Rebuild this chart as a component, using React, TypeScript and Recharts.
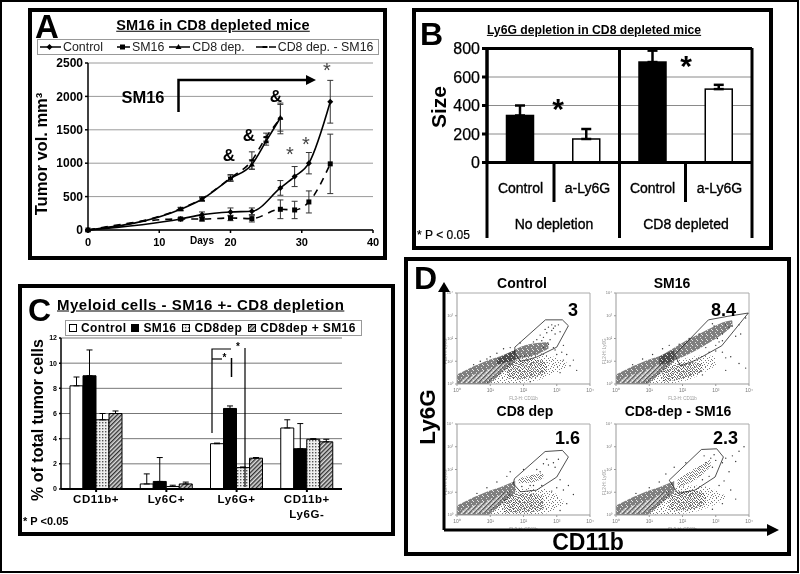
import React from "react";
import {
  Bar,
  BarChart,
  Area,
  CartesianGrid,
  ComposedChart,
  ErrorBar,
  Legend,
  Line,
  LineChart,
  ReferenceLine,
  Scatter,
  XAxis,
  YAxis,
} from "recharts";

const FONT = '"Liberation Sans", Arial, sans-serif';

// panel A: tumor growth
const controlDays = [0, 13, 16, 20, 23, 27, 29, 31, 34];
const controlVol = [0, 165, 230, 270, 280, 630, 800, 1000, 1920];
const controlErr = [0, 15, 40, 60, 50, 110, 150, 160, 320];
const sm16Days = [0, 13, 16, 20, 23, 27, 29, 31, 34];
const sm16Vol = [0, 165, 165, 180, 170, 310, 300, 420, 990];
const sm16Err = [0, 15, 30, 40, 50, 140, 130, 165, 445];
const cd8Days = [0, 13, 16, 20, 23, 25, 27];
const cd8Vol = [0, 310, 460, 770, 980, 1330, 1680];
const cd8Err = [0, 20, 30, 40, 70, 60, 200];
const cd8SmDays = [0, 13, 16, 20, 23, 25, 27];
const cd8SmVol = [0, 320, 470, 780, 1040, 1390, 1670];
const cd8SmErr = [0, 20, 30, 50, 130, 60, 230];

// panel B: Ly6G depletion
const sizeLabels = ["Control", "a-Ly6G", "Control", "a-Ly6G"];
const sizeValues = [330, 165, 705, 515];
const sizeErrors = [70, 70, 80, 30];

// panel C: myeloid cells
const myeloidLabels = ["CD11b+", "Ly6C+", "Ly6G+", "CD11b+\nLy6G-"];
const myeloidControl = [8.2, 0.4, 3.6, 4.85];
const myeloidSm16 = [9.0, 0.6, 6.4, 3.2];
const myeloidCd8 = [5.5, 0.2, 1.7, 3.95];
const myeloidCd8Sm = [6.0, 0.4, 2.45, 3.75];
const myeloidControlErr = [0.7, 0.8, 0.05, 0.65];
const myeloidSm16Err = [2.05, 1.9, 0.2, 2.0];
const myeloidCd8Err = [0.5, 0.1, 0.05, 0.05];
const myeloidCd8SmErr = [0.2, 0.15, 0.05, 0.2];

// panel D: flow plots, all in log10 decades
const bandX = [0, 0.5, 0.95, 1.3, 1.75];
const bandHigh = [0.42, 0.78, 1.05, 1.22, 1.5];
const bandLow = [0, 0, 0, 0.42, 1.0];
const coreX = [0.1, 0.5, 0.9, 1.2, 1.5];
const coreHigh = [0.22, 0.42, 0.62, 0.8, 1.05];
const coreLow = [0.05, 0.05, 0.12, 0.5, 0.95];

const controlGate = [[1.74, 1.62], [2.66, 2.82], [3.17, 2.82], [3.35, 2.56], [3.0, 1.62], [2.39, 1.18], [1.91, 0.99], [1.74, 1.35], [1.74, 1.62]];
const controlArmX = [1.2, 1.6, 2.0, 2.4, 2.75];
const controlArmHigh = [1.1, 1.4, 1.68, 1.8, 1.85];
const controlArmLow = [0.85, 1.0, 1.15, 1.3, 1.55];
const controlCloudX = [0.9, 1.3, 1.7, 2.1, 2.5, 2.9, 3.3];
const controlCloudHigh = [0.2, 0.75, 1.15, 1.3, 1.35, 1.2, 0.95];
const controlCloudLow = [0.02, 0.02, 0.03, 0.08, 0.2, 0.45, 0.7];
const controlBlobX = [1.5, 1.9, 2.3, 2.7];
const controlBlobHigh = [0.8, 1.05, 1.1, 0.95];
const controlBlobLow = [0.25, 0.2, 0.3, 0.5];
const controlDots = [[2.9, 2.45], [2.95, 2.55], [2.85, 2.35], [2.7, 2.25], [3.05, 2.6], [2.6, 2.05], [2.75, 2.5], [2.5, 2.15], [3.1, 2.3], [2.8, 1.95], [2.4, 1.95], [3.3, 1.3], [3.5, 1.05], [3.4, 0.8], [3.15, 1.4], [2.95, 1.5], [1.2, 1.35], [1.0, 1.2], [0.7, 1.0], [1.4, 1.55], [1.6, 1.6], [2.2, 0.1], [3.1, 0.5], [3.6, 0.6], [3.2, 1.7], [2.6, 1.6], [2.3, 1.85], [1.9, 1.8], [2.85, 2.6], [2.65, 2.4], [2.55, 1.9], [2.95, 2.2], [2.75, 1.75], [2.9, 1.6], [3.2, 1.05], [3.0, 1.3], [0.5, 0.85], [0.9, 1.1]];

const sm16Gate = [[1.76, 1.28], [2.78, 2.82], [3.34, 2.97], [3.98, 3.12], [3.18, 1.68], [2.42, 1.06], [1.94, 0.79], [1.76, 1.28]];
const sm16ArmX = [1.3, 1.7, 2.1, 2.5, 2.9, 3.3, 3.5];
const sm16ArmHigh = [1.2, 1.55, 1.9, 2.2, 2.5, 2.75, 2.8];
const sm16ArmLow = [0.8, 1.0, 1.25, 1.55, 1.9, 2.3, 2.55];
const sm16CloudX = [0.9, 1.4, 1.9, 2.3, 2.7, 3.0];
const sm16CloudHigh = [0.3, 0.8, 1.05, 1.2, 1.25, 1.2];
const sm16CloudLow = [0.02, 0.02, 0.08, 0.25, 0.55, 0.8];
const sm16BlobX = [1.4, 1.9, 2.3, 2.6];
const sm16BlobHigh = [0.6, 0.9, 0.95, 0.9];
const sm16BlobLow = [0.1, 0.2, 0.35, 0.55];
const sm16Dots = [[3.3, 2.6], [3.4, 2.5], [3.2, 2.2], [3.05, 2.0], [3.5, 2.55], [2.95, 2.55], [3.1, 1.85], [3.6, 2.1], [3.75, 2.2], [3.2, 1.4], [3.45, 1.2], [3.7, 0.9], [3.9, 0.7], [3.0, 1.45], [2.8, 1.4], [2.5, 2.2], [2.2, 2.0], [1.9, 1.75], [1.4, 1.55], [1.1, 1.3], [0.8, 1.1], [1.6, 1.7], [3.3, 0.6], [2.6, 0.4], [3.9, 2.9], [3.7, 2.6], [3.0, 1.7], [2.7, 1.6], [3.2, 1.9], [2.9, 2.65], [3.3, 1.15], [0.5, 0.85]];

const cd8Gate = [[1.73, 1.6], [2.65, 2.79], [3.17, 2.84], [3.35, 2.55], [3.0, 1.67], [2.39, 1.09], [1.91, 1.02], [1.69, 1.38], [1.73, 1.6]];
const cd8ArmX = [1.85, 2.2, 2.6];
const cd8ArmHigh = [1.6, 1.75, 1.85];
const cd8ArmLow = [1.4, 1.42, 1.62];
const cd8CloudX = [1.0, 1.4, 1.8, 2.2, 2.6, 3.0, 3.2];
const cd8CloudHigh = [0.45, 0.95, 1.15, 1.2, 1.15, 0.9, 0.6];
const cd8CloudLow = [0.02, 0.02, 0.02, 0.02, 0.05, 0.3, 0.45];
const cd8BlobX = [1.4, 1.8, 2.2, 2.6];
const cd8BlobHigh = [0.7, 0.95, 0.95, 0.8];
const cd8BlobLow = [0.1, 0.1, 0.12, 0.25];
const cd8Dots = [[2.6, 2.25], [2.75, 2.2], [2.9, 2.3], [2.4, 2.0], [2.95, 2.1], [2.5, 1.9], [3.05, 2.45], [3.0, 1.2], [3.2, 1.1], [3.35, 1.3], [3.5, 0.9], [2.55, 1.3], [2.85, 1.05], [1.2, 1.45], [0.9, 1.2], [1.5, 1.7], [1.6, 1.9], [2.0, 2.0], [3.3, 0.5], [3.1, 0.2], [2.2, 1.3], [1.95, 1.25], [2.3, 1.3], [2.7, 2.45], [3.1, 1.55], [0.6, 0.95]];

const cd8SmGate = [[1.6, 1.53], [2.57, 2.88], [3.03, 2.91], [3.23, 2.55], [2.98, 1.67], [2.37, 1.09], [1.86, 0.95], [1.6, 1.53]];
const cd8SmArmX = [1.85, 2.2, 2.5, 2.85];
const cd8SmArmHigh = [1.55, 1.9, 2.15, 2.45];
const cd8SmArmLow = [1.2, 1.4, 1.65, 2.15];
const cd8SmCloudX = [1.0, 1.5, 2.0, 2.4, 2.8, 3.1, 3.3];
const cd8SmCloudHigh = [0.4, 1.0, 1.25, 1.3, 1.2, 1.0, 0.85];
const cd8SmCloudLow = [0.02, 0.02, 0.05, 0.15, 0.35, 0.55, 0.7];
const cd8SmBlobX = [1.6, 2.0, 2.4, 2.7];
const cd8SmBlobHigh = [0.8, 1.05, 1.05, 0.9];
const cd8SmBlobLow = [0.2, 0.2, 0.3, 0.5];
const cd8SmDots = [[2.85, 2.5], [2.95, 2.65], [3.0, 2.4], [2.7, 2.3], [3.2, 2.3], [3.3, 2.5], [3.5, 2.6], [3.7, 2.8], [3.85, 3.0], [3.6, 2.35], [3.4, 1.9], [3.25, 1.5], [3.1, 1.3], [3.45, 1.1], [2.6, 1.55], [2.8, 1.7], [1.3, 1.45], [1.0, 1.2], [1.5, 1.8], [1.75, 2.1], [2.1, 2.3], [3.2, 0.5], [3.6, 0.7], [2.9, 0.25], [2.65, 2.6], [2.9, 2.1], [0.6, 0.95]];

const flowTicks = [0, 1, 2, 3, 4];
const tickPowers = ["⁰", "¹", "²", "³", "⁴"];

// irregular texture tiles for the flow clouds
const stippleTile = [[0, 0], [4, 0], [8, 1], [2, 2], [6, 2], [10, 3], [0, 4], [4, 4], [7, 4], [2, 6], [9, 5], [5, 6], [0, 7], [7, 7], [3, 8], [10, 8], [1, 9], [6, 9], [9, 10], [4, 10]];
const cloudTile = [[0, 0], [1, 0], [3, 0], [6, 0], [8, 1], [2, 1], [4, 1], [5, 2], [0, 2], [7, 2], [1, 3], [3, 3], [8, 3], [6, 4], [4, 4], [0, 4], [2, 5], [7, 5], [5, 5], [1, 6], [3, 6], [8, 6], [6, 7], [0, 7], [4, 7], [2, 8], [7, 8], [5, 8]];

const zipRows = (days: number[], vol: number[], err: number[]) =>
  days.map((day, i) => ({ day, vol: vol[i], err: err[i] }));

const bandRows = (x: number[], high: number[], low: number[]) =>
  x.map((v, i) => ({ x: v, range: [low[i], high[i]] }));

const pointRows = (pts: number[][]) => pts.map(([x, y]) => ({ x, y }));

const growthSeries = [
  { name: "Control", rows: zipRows(controlDays, controlVol, controlErr), dash: undefined, marker: "diamond", icon: 21, gap: 14 },
  { name: "SM16", rows: zipRows(sm16Days, sm16Vol, sm16Err), dash: "5 3", marker: "square", icon: 13, gap: 5 },
  { name: "CD8 dep.", rows: zipRows(cd8Days, cd8Vol, cd8Err), dash: undefined, marker: "triangle", icon: 21, gap: 11 },
  { name: "CD8 dep. - SM16", rows: zipRows(cd8SmDays, cd8SmVol, cd8SmErr), dash: "7 6", marker: "dash", icon: 20, gap: 0 },
];

const sizeRows = sizeLabels.map((label, i) => ({
  key: i,
  label,
  size: sizeValues[i],
  err: [0, sizeErrors[i]],
}));

const myeloidRows = myeloidLabels.map((label, i) => ({
  label,
  control: myeloidControl[i],
  sm16: myeloidSm16[i],
  cd8: myeloidCd8[i],
  cd8sm: myeloidCd8Sm[i],
  controlErr: [0, myeloidControlErr[i]],
  sm16Err: [0, myeloidSm16Err[i]],
  cd8Err: [0, myeloidCd8Err[i]],
  cd8smErr: [0, myeloidCd8SmErr[i]],
}));

const myeloidSeries = [
  { key: "control", name: "Control", fill: "#fff" },
  { key: "sm16", name: "SM16", fill: "#000" },
  { key: "cd8", name: "CD8dep", fill: "url(#dots)" },
  { key: "cd8sm", name: "CD8dep + SM16", fill: "url(#diag)" },
];

const Marker = ({ kind, cx, cy }: any) => {
  if (cx == null || cy == null) return null;
  if (kind === "square") return <rect x={cx - 2.5} y={cy - 2.5} width={5} height={5} fill="#000" />;
  if (kind === "triangle") return <path d={`M${cx} ${cy - 3}L${cx + 3} ${cy + 2}L${cx - 3} ${cy + 2}Z`} fill="#000" />;
  if (kind === "dash") return <rect x={cx - 2.5} y={cy - 1} width={5} height={2} fill="#000" />;
  return <path d={`M${cx} ${cy - 3}L${cx + 3} ${cy}L${cx} ${cy + 3}L${cx - 3} ${cy}Z`} fill="#000" />;
};

const Box = ({ x, y, w, h, line = 4 }: any) => (
  <div
    style={{
      position: "absolute",
      left: x,
      top: y,
      width: w,
      height: h,
      border: `${line}px solid #000`,
      boxSizing: "border-box",
    }}
  />
);

const Note = ({ x, y, size, bold = true, center, right, under, rotate, color = "#000", thick, spacing, children }: any) => {
  let shift = "translateY(-50%)";
  if (center) shift = "translate(-50%,-50%)";
  if (right) shift = "translate(-100%,-50%)";
  if (rotate) shift += ` rotate(${rotate}deg)`;
  return (
    <div
      style={{
        position: "absolute",
        left: x,
        top: y,
        transform: shift,
        fontFamily: FONT,
        fontSize: size,
        fontWeight: bold ? 700 : 400,
        lineHeight: 1,
        color,
        whiteSpace: "nowrap",
        letterSpacing: spacing,
        WebkitTextStroke: thick ? `${thick}px #000` : undefined,
        textDecoration: under ? "underline" : "none",
      }}
    >
      {children}
    </div>
  );
};

const GrowthLegend = () => (
  <div
    style={{
      display: "flex",
      alignItems: "center",
      width: 342,
      height: 16,
      boxSizing: "border-box",
      border: "1px solid #999",
      background: "#fff",
      fontFamily: FONT,
      fontSize: 12.4,
      color: "#222",
      paddingLeft: 2,
      whiteSpace: "nowrap",
    }}
  >
    {growthSeries.map((s) => (
      <span key={s.name} style={{ display: "flex", alignItems: "center", marginRight: s.gap }}>
        <svg width={s.icon} height={10} style={{ marginRight: 2 }}>
          <line x1={0} y1={5} x2={s.icon} y2={5} stroke="#000" strokeWidth={1.5} strokeDasharray={s.dash} />
          <Marker kind={s.marker} cx={s.icon / 2 - 1} cy={5} />
        </svg>
        {s.name}
      </span>
    ))}
  </div>
);

const GrowthChart = () => (
  <LineChart width={358} height={252} margin={{ top: 55, right: 13, bottom: 0, left: 20 }}>
    <CartesianGrid horizontal vertical={false} stroke="#9a9a9a" strokeWidth={1} />
    <XAxis
      dataKey="day"
      type="number"
      domain={[0, 40]}
      ticks={[0, 10, 20, 30, 40]}
      height={30}
      tickSize={3}
      stroke="#000"
      strokeWidth={1.5}
      tick={{ fontFamily: FONT, fontSize: 11, fontWeight: 700, fill: "#000", dy: 3 }}
    />
    <YAxis
      width={40}
      domain={[0, 2500]}
      ticks={[0, 500, 1000, 1500, 2000, 2500]}
      tickSize={3}
      stroke="#000"
      strokeWidth={1.5}
      tick={{ fontFamily: FONT, fontSize: 12, fontWeight: 700, fill: "#000" }}
    />
    <Legend
      layout="horizontal"
      verticalAlign="middle"
      align="center"
      wrapperStyle={{ left: 9, top: 31, width: 342, height: 16 }}
      content={<GrowthLegend />}
    />
    {growthSeries.map((s) => (
      <Line
        key={s.name}
        name={s.name}
        data={s.rows}
        dataKey="vol"
        type="monotone"
        stroke="#000"
        strokeWidth={1.6}
        strokeDasharray={s.dash ? "7 6" : undefined}
        isAnimationActive={false}
        dot={(p: any) => <Marker key={p.index} kind={s.marker} cx={p.cx} cy={p.cy} />}
      >
        <ErrorBar dataKey="err" direction="y" width={3} stroke="#333" strokeWidth={1} />
      </Line>
    ))}
  </LineChart>
);

const SizeChart = () => (
  <BarChart
    width={360}
    height={170}
    data={sizeRows}
    margin={{ top: 48.5, right: 20, bottom: 0, left: 35 }}
    barCategoryGap={19.5}
  >
    <CartesianGrid horizontal vertical={false} stroke="#8a8a8a" />
    <XAxis dataKey="key" height={7.5} tick={false} tickLine={false} stroke="#000" strokeWidth={3} />
    <YAxis
      width={40}
      domain={[0, 800]}
      ticks={[0, 200, 400, 600, 800]}
      interval={0}
      tickSize={5}
      stroke="#000"
      strokeWidth={3}
      tick={{ fontFamily: FONT, fontSize: 16, fill: "#000", stroke: "#000", strokeWidth: 0.25 }}
    />
    <Bar
      dataKey="size"
      isAnimationActive={false}
      stroke="#000"
      strokeWidth={1.5}
      shape={(p: any) => (
        <rect x={p.x} y={p.y} width={p.width} height={p.height} stroke="#000" strokeWidth={1.5} fill={p.index % 2 ? "#fff" : "#000"} />
      )}
    >
      <ErrorBar dataKey="err" direction="y" width={5} stroke="#000" strokeWidth={2.5} />
    </Bar>
  </BarChart>
);

const MyeloidTick = ({ x, y, payload }: any) => (
  <text x={x} y={y + 9} textAnchor="middle" fontFamily={FONT} fontSize={11.5} fontWeight={700} letterSpacing={0.6} fill="#000">
    {String(payload.value)
      .split("\n")
      .map((part, i) => (
        <tspan key={part} x={x} dy={i ? 15 : 0}>
          {part}
        </tspan>
      ))}
  </text>
);

const MyeloidLegend = () => (
  <div
    style={{
      display: "flex",
      alignItems: "center",
      width: 297,
      height: 16,
      boxSizing: "border-box",
      border: "1px solid #999",
      background: "#fff",
      fontFamily: FONT,
      fontSize: 12,
      fontWeight: 700,
      letterSpacing: 0.4,
      color: "#000",
      paddingLeft: 3,
      whiteSpace: "nowrap",
    }}
  >
    {myeloidSeries.map((s, i) => (
      <span key={s.key} style={{ display: "flex", alignItems: "center", marginRight: i === 0 ? 5 : 6 }}>
        <svg width={9} height={9} style={{ marginRight: 3 }}>
          <rect x={0.5} y={0.5} width={7} height={7} fill={s.fill} stroke="#000" strokeWidth={1} />
        </svg>
        {s.name}
      </span>
    ))}
  </div>
);

const MyeloidChart = () => (
  <BarChart
    width={376}
    height={250}
    data={myeloidRows}
    margin={{ top: 54, right: 52, bottom: 0, left: 23 }}
    barCategoryGap={9}
    barGap={0}
  >
    <CartesianGrid horizontal vertical={false} stroke="#777" />
    <XAxis dataKey="label" height={45} tickSize={3} stroke="#000" strokeWidth={2} tick={<MyeloidTick />} interval={0} />
    <YAxis
      width={20}
      domain={[0, 12]}
      ticks={[0, 2, 4, 6, 8, 10, 12]}
      interval={0}
      tickSize={2}
      stroke="#000"
      strokeWidth={1.5}
      tick={{ fontFamily: FONT, fontSize: 7, fontWeight: 700, fill: "#000" }}
    />
    <Legend
      layout="horizontal"
      verticalAlign="middle"
      align="center"
      wrapperStyle={{ left: 47, top: 36, width: 297, height: 16 }}
      content={<MyeloidLegend />}
    />
    {myeloidSeries.map((s) => (
      <Bar key={s.key} dataKey={s.key} name={s.name} fill={s.fill} stroke="#000" strokeWidth={1} isAnimationActive={false}>
        <ErrorBar dataKey={`${s.key}Err`} direction="y" width={3} stroke="#000" strokeWidth={1} />
      </Bar>
    ))}
  </BarChart>
);

const FlowPlot = ({ gate, armX, armHigh, armLow, armFill, cloudX, cloudHigh, cloudLow, blobX, blobHigh, blobLow, dots }: any) => (
  <ComposedChart width={165} height={110} margin={{ top: 3, right: 7, bottom: 0, left: 17 }}>
    <XAxis
      dataKey="x"
      type="number"
      domain={[0, 4]}
      ticks={flowTicks}
      interval={0}
      height={16}
      tickSize={2}
      stroke="#999"
      tick={{ fontFamily: FONT, fontSize: 5, fill: "#777" }}
      tickFormatter={(v: number) => `10${tickPowers[v]}`}
      label={{ value: "FL3-H: CD11b", position: "insideBottom", offset: 0, fontFamily: FONT, fontSize: 4.5, fill: "#999" }}
    />
    <YAxis
      dataKey="y"
      type="number"
      domain={[0, 4]}
      ticks={flowTicks}
      interval={0}
      width={8}
      tickSize={2}
      stroke="#999"
      tick={{ fontFamily: FONT, fontSize: 4, fill: "#777" }}
      tickFormatter={(v: number) => `10${tickPowers[v]}`}
      label={{ value: "FL2-H: Ly6G", angle: -90, position: "left", offset: 4, fontFamily: FONT, fontSize: 4.5, fill: "#999" }}
    />
    <ReferenceLine y={4} stroke="#aaa" />
    <ReferenceLine x={4} stroke="#aaa" />
    <Area data={bandRows(cloudX, cloudHigh, cloudLow)} dataKey="range" type="monotone" stroke="none" fill="url(#stipple)" dot={false} isAnimationActive={false} />
    <Area data={bandRows(blobX, blobHigh, blobLow)} dataKey="range" type="monotone" stroke="none" fill="url(#cloud)" dot={false} isAnimationActive={false} />
    <Area data={bandRows(bandX, bandHigh, bandLow)} dataKey="range" type="linear" stroke="none" fill="url(#dense)" dot={false} isAnimationActive={false} />
    <Area data={bandRows(coreX, coreHigh, coreLow)} dataKey="range" type="linear" stroke="none" fill="url(#hatch)" dot={false} isAnimationActive={false} />
    <Area data={bandRows(armX, armHigh, armLow)} dataKey="range" type="monotone" stroke="none" fill={armFill} dot={false} isAnimationActive={false} />
    <Scatter
      data={pointRows(dots)}
      isAnimationActive={false}
      shape={(p: any) => <circle cx={p.cx} cy={p.cy} r={0.7} fill="#333" />}
    />
    <Scatter
      data={pointRows(gate)}
      line={{ stroke: "#222", strokeWidth: 0.8 }}
      lineType="joint"
      isAnimationActive={false}
      shape={() => <g />}
    />
  </ComposedChart>
);

const At = ({ x, y, children }: any) => (
  <div style={{ position: "absolute", left: x, top: y }}>{children}</div>
);

const Defs = () => (
  <svg width={0} height={0} style={{ position: "absolute" }}>
    <defs>
      <pattern id="dots" width={3} height={3} patternUnits="userSpaceOnUse">
        <rect width={3} height={3} fill="#eee" />
        <rect x={0} y={0} width={1.4} height={1.4} fill="#555" />
      </pattern>
      <pattern id="diag" width={3} height={3} patternUnits="userSpaceOnUse" patternTransform="rotate(45)">
        <rect width={3} height={3} fill="#ddd" />
        <rect width={1.4} height={3} fill="#333" />
      </pattern>
      <pattern id="hatch" width={3.5} height={3.5} patternUnits="userSpaceOnUse" patternTransform="rotate(45)">
        <rect width={3.5} height={3.5} fill="#f8f8f8" />
        <rect width={1.1} height={3.5} fill="#222" />
      </pattern>
      <pattern id="dense" width={5} height={5} patternUnits="userSpaceOnUse">
        <rect width={5} height={5} fill="#2a2a2a" />
        <rect x={1} y={0} width={1} height={1} fill="#ddd" />
        <rect x={4} y={2} width={1} height={1} fill="#ccc" />
        <rect x={0} y={4} width={1} height={1} fill="#ddd" />
      </pattern>
      <pattern id="cloud" width={9} height={9} patternUnits="userSpaceOnUse">
        {cloudTile.map(([x, y]) => (
          <rect key={`${x}-${y}`} x={x} y={y} width={1} height={1} fill="#222" />
        ))}
      </pattern>
      <pattern id="stipple" width={11} height={11} patternUnits="userSpaceOnUse">
        {stippleTile.map(([x, y]) => (
          <rect key={`${x}-${y}`} x={x} y={y} width={1} height={1} fill="#222" />
        ))}
      </pattern>
    </defs>
  </svg>
);

export default function App() {
  return (
    <div
      style={{
        position: "absolute",
        left: 0,
        top: 0,
        width: 800,
        height: 574,
        background: "#fff",
        overflow: "hidden",
        filter: "blur(0.5px)",
      }}
    >
      <Defs />
      <Box x={0} y={0} w={799} h={573} line={2} />

      {/* A */}
      <Box x={28} y={8} w={359} h={252} />
      <At x={28} y={8}>
        <GrowthChart />
      </At>
      <Note x={35} y={26} size={33}>A</Note>
      <Note x={213} y={25} size={14.5} center under spacing={0.2}>SM16 in CD8 depleted mice</Note>
      <Note x={41} y={154} size={16.5} center rotate={-90}>Tumor vol. mm³</Note>
      <Note x={202} y={241} size={10} center>Days</Note>
      <Note x={143} y={97} size={16.5} center>SM16</Note>
      <Note x={276} y={96} size={17} center>&amp;</Note>
      <Note x={249} y={135} size={17} center>&amp;</Note>
      <Note x={229} y={155} size={17} center>&amp;</Note>
      <Note x={327} y={70} size={20} center bold={false} color="#444">*</Note>
      <Note x={290} y={154} size={20} center bold={false} color="#444">*</Note>
      <Note x={306} y={144} size={20} center bold={false} color="#444">*</Note>
      <svg width={800} height={574} style={{ position: "absolute", left: 0, top: 0 }}>
        <path d="M178.5 112V80H308" fill="none" stroke="#000" strokeWidth={2.5} />
        <path d="M306 75L316 80L306 85Z" fill="#000" />
      </svg>

      {/* B */}
      <Box x={412} y={8} w={361} h={242} />
      <At x={412} y={0}>
        <SizeChart />
      </At>
      <svg width={800} height={574} style={{ position: "absolute", left: 0, top: 0 }}>
        <g stroke="#000" strokeWidth={3} fill="none">
          <path d="M487 48.5H752" />
          <path d="M487 48V238" />
          <path d="M619.5 48V238" />
          <path d="M752 48V238" />
          <path d="M554 162V202" />
          <path d="M685.5 162V202" />
        </g>
      </svg>
      <Note x={420} y={34} size={32}>B</Note>
      <Note x={594} y={30} size={12.2} center under>Ly6G depletion in CD8 depleted mice</Note>
      <Note x={438} y={107} size={21} center rotate={-90}>Size</Note>
      {[520.5, 587.5, 652.5, 719.5].map((x, i) => (
        <Note key={i} x={x} y={188} size={14} center bold={false} thick={0.35}>{sizeLabels[i]}</Note>
      ))}
      <Note x={554} y={224} size={14} center bold={false} thick={0.35}>No depletion</Note>
      <Note x={686} y={224} size={14} center bold={false} thick={0.35}>CD8 depleted</Note>
      <Note x={558} y={109} size={30} center>*</Note>
      <Note x={686} y={66} size={30} center>*</Note>
      <Note x={417} y={235} size={12} bold={false} thick={0.2}>* P &lt; 0.05</Note>

      {/* C */}
      <Box x={18} y={284} w={377} h={252} />
      <At x={18} y={284}>
        <MyeloidChart />
      </At>
      <Note x={28} y={310} size={32}>C</Note>
      <Note x={57} y={304} size={15} under spacing={0.5}>Myeloid cells - SM16 +- CD8 depletion</Note>
      <Note x={38} y={420} size={16} center rotate={-90}>% of total tumor cells</Note>
      <Note x={23} y={521} size={11}>* P &lt;0.05</Note>
      <svg width={800} height={574} style={{ position: "absolute", left: 0, top: 0 }}>
        <g stroke="#000" fill="none" strokeWidth={1.2}>
          <path d="M212 433V349H231" />
          <path d="M212 359H222" />
          <path d="M231.5 358V377" strokeWidth={1.5} />
          <path d="M245 348V487" />
        </g>
      </svg>
      <Note x={224.5} y={358} size={10} center>*</Note>
      <Note x={238} y={347} size={10} center>*</Note>

      {/* D */}
      <Box x={404} y={257} w={387} h={299} />
      <At x={432} y={290}>
        <FlowPlot gate={controlGate} armX={controlArmX} armHigh={controlArmHigh} armLow={controlArmLow} armFill="url(#dense)" cloudX={controlCloudX} cloudHigh={controlCloudHigh} cloudLow={controlCloudLow} blobX={controlBlobX} blobHigh={controlBlobHigh} blobLow={controlBlobLow} dots={controlDots} />
      </At>
      <At x={591} y={290}>
        <FlowPlot gate={sm16Gate} armX={sm16ArmX} armHigh={sm16ArmHigh} armLow={sm16ArmLow} armFill="url(#dense)" cloudX={sm16CloudX} cloudHigh={sm16CloudHigh} cloudLow={sm16CloudLow} blobX={sm16BlobX} blobHigh={sm16BlobHigh} blobLow={sm16BlobLow} dots={sm16Dots} />
      </At>
      <At x={432} y={421}>
        <FlowPlot gate={cd8Gate} armX={cd8ArmX} armHigh={cd8ArmHigh} armLow={cd8ArmLow} armFill="url(#cloud)" cloudX={cd8CloudX} cloudHigh={cd8CloudHigh} cloudLow={cd8CloudLow} blobX={cd8BlobX} blobHigh={cd8BlobHigh} blobLow={cd8BlobLow} dots={cd8Dots} />
      </At>
      <At x={591} y={421}>
        <FlowPlot gate={cd8SmGate} armX={cd8SmArmX} armHigh={cd8SmArmHigh} armLow={cd8SmArmLow} armFill="url(#cloud)" cloudX={cd8SmCloudX} cloudHigh={cd8SmCloudHigh} cloudLow={cd8SmCloudLow} blobX={cd8SmBlobX} blobHigh={cd8SmBlobHigh} blobLow={cd8SmBlobLow} dots={cd8SmDots} />
      </At>
      <svg width={800} height={574} style={{ position: "absolute", left: 0, top: 0 }}>
        <path d="M444 530V290M444 530H770" stroke="#000" strokeWidth={3} fill="none" />
        <path d="M438 292L444 282L450 292Z" fill="#000" />
        <path d="M767 524L779 530L767 536Z" fill="#000" />
      </svg>
      <Note x={414} y={278} size={32}>D</Note>
      <Note x={522} y={283} size={14} center>Control</Note>
      <Note x={672} y={283} size={14} center>SM16</Note>
      <Note x={525} y={411} size={14} center>CD8 dep</Note>
      <Note x={678} y={411} size={14} center>CD8-dep - SM16</Note>
      <Note x={578} y={310} size={18} right>3</Note>
      <Note x={736} y={310} size={18} right>8.4</Note>
      <Note x={580} y={438} size={18} right>1.6</Note>
      <Note x={738} y={438} size={18} right>2.3</Note>
      <Note x={428} y={417} size={22.5} center rotate={-90}>Ly6G</Note>
      <Note x={588} y={542} size={23} center>CD11b</Note>
    </div>
  );
}
